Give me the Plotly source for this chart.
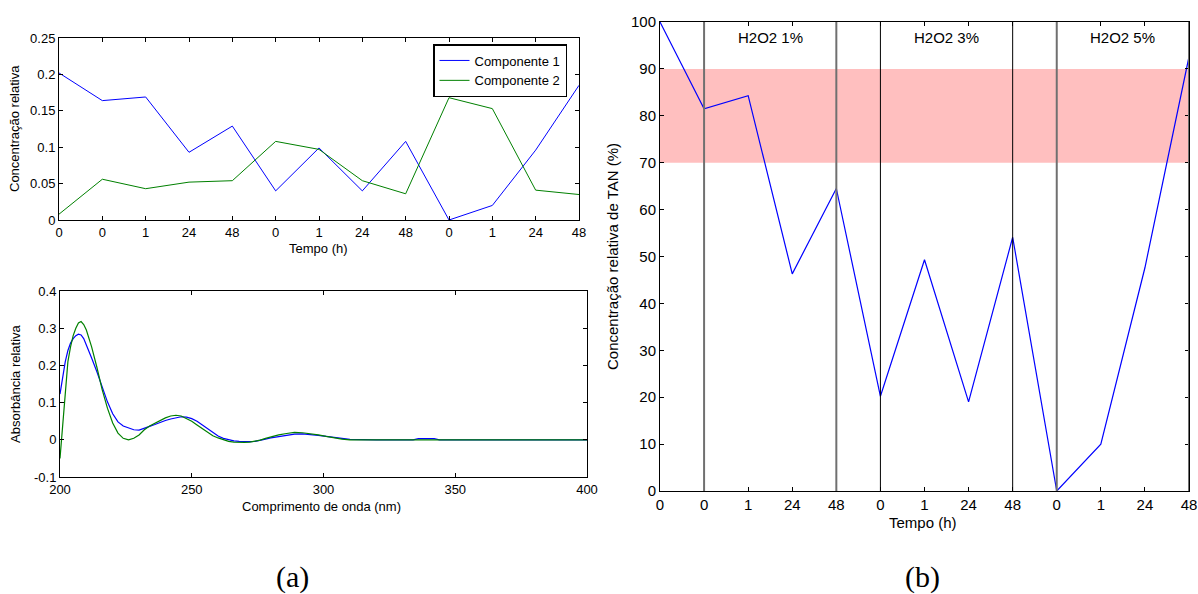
import plotly.graph_objects as go

W, H = 1198, 594

# ---------------- data ----------------
tempo_labels = ["0", "0", "1", "24", "48", "0", "1", "24", "48", "0", "1", "24", "48"]
tempo_idx = list(range(len(tempo_labels)))

componente1 = [0.202, 0.164, 0.169, 0.093, 0.129, 0.040, 0.099, 0.040, 0.108, 0.000, 0.020, 0.096, 0.185]
componente2 = [0.008, 0.056, 0.043, 0.052, 0.054, 0.108, 0.097, 0.054, 0.036, 0.168, 0.153, 0.041, 0.035]

wavelength = [200, 201, 202, 203, 204, 205, 206, 207, 208, 209, 210, 212, 214, 216, 218,
              220, 222, 224, 226, 228, 230, 232, 234, 236, 238, 240, 242, 244, 246, 248,
              250, 252, 254, 256, 258, 260, 262, 264, 266, 268, 270, 272, 274, 276, 278,
              280, 283, 286, 289, 292, 295, 298, 301, 304, 307, 310, 320, 330, 334, 336,
              340, 342, 344, 350, 360, 380, 400]
absorb1 = [0.123, 0.170, 0.210, 0.240, 0.260, 0.272, 0.280, 0.284, 0.282, 0.272, 0.256, 0.220,
           0.183, 0.140, 0.102, 0.070, 0.048, 0.037, 0.031, 0.027, 0.026, 0.030, 0.036, 0.041,
           0.047, 0.052, 0.056, 0.060, 0.062, 0.061, 0.057, 0.050, 0.040, 0.029, 0.019, 0.010,
           0.004, 0.000, -0.003, -0.004, -0.005, -0.005, -0.004, -0.002, 0.002, 0.005, 0.009,
           0.013, 0.015, 0.016, 0.015, 0.012, 0.009, 0.006, 0.003, 0.001, 0.000, 0.000, 0.000,
           0.003, 0.003, 0.003, 0.000, 0.000, 0.000, 0.000, 0.000]
absorb2 = [-0.050, 0.040, 0.140, 0.210, 0.250, 0.280, 0.300, 0.314, 0.318, 0.310, 0.295, 0.250,
           0.195, 0.135, 0.085, 0.045, 0.018, 0.004, 0.000, 0.004, 0.013, 0.027, 0.037, 0.045,
           0.052, 0.059, 0.064, 0.066, 0.064, 0.058, 0.050, 0.040, 0.030, 0.020, 0.011, 0.005,
           0.000, -0.004, -0.006, -0.007, -0.007, -0.006, -0.004, -0.001, 0.004, 0.008, 0.013,
           0.017, 0.020, 0.019, 0.017, 0.013, 0.009, 0.005, 0.002, 0.000, 0.000, 0.000, 0.000,
           0.001, 0.001, 0.001, 0.000, 0.000, 0.000, 0.000, 0.000]

tan_rel = [100, 81.5, 84.3, 46.3, 64.5, 20.2, 49.3, 19.0, 54.1, 0.0, 10.0, 47.6, 92.6]

band_low, band_high = 70, 90
boundaries_grey = [1, 4, 9, 12]
boundaries_black = [5, 8]
group_labels = ["H2O2 1%", "H2O2 3%", "H2O2 5%"]
group_centers = [2.5, 6.5, 10.5]

ytick_a = [0, 0.05, 0.1, 0.15, 0.2, 0.25]
ytick_a_txt = ["0", "0.05", "0.1", "0.15", "0.2", "0.25"]
ytick_b = [-0.1, 0, 0.1, 0.2, 0.3, 0.4]
ytick_b_txt = ["-0.1", "0", "0.1", "0.2", "0.3", "0.4"]
xtick_b = [200, 250, 300, 350, 400]
ytick_c = list(range(0, 101, 10))

# ---------------- figure ----------------
FONT = "Liberation Sans, Arial, sans-serif"
BLUE = "#0000ff"
GREEN = "#008000"

def px_x(a, b):
    return [a / W, b / W]

def px_y(top, bottom):
    return [1 - bottom / H, 1 - top / H]

fig = go.Figure()

fig.add_trace(go.Scatter(x=tempo_idx, y=componente1, mode="lines", name="Componente 1",
                         line=dict(color=BLUE, width=1), xaxis="x", yaxis="y"))
fig.add_trace(go.Scatter(x=tempo_idx, y=componente2, mode="lines", name="Componente 2",
                         line=dict(color=GREEN, width=1), xaxis="x", yaxis="y"))
fig.add_trace(go.Scatter(x=wavelength, y=absorb1, mode="lines", showlegend=False,
                         line=dict(color=BLUE, width=1.2), xaxis="x2", yaxis="y2"))
fig.add_trace(go.Scatter(x=wavelength, y=absorb2, mode="lines", showlegend=False,
                         line=dict(color=GREEN, width=1.2), xaxis="x2", yaxis="y2"))
fig.add_trace(go.Scatter(x=tempo_idx, y=tan_rel, mode="lines", showlegend=False,
                         line=dict(color=BLUE, width=1.2), xaxis="x3", yaxis="y3"))

common = dict(showline=True, linecolor="black", linewidth=1, mirror="ticks",
              ticks="inside", ticklen=4, tickcolor="black", showgrid=False,
              zeroline=False, automargin=False,
              tickfont=dict(family=FONT, size=13, color="black"))
common_c = dict(common)
common_c["tickfont"] = dict(family=FONT, size=15, color="black")

shapes = [dict(type="rect", xref="x3", yref="y3", x0=0, x1=12, y0=band_low, y1=band_high,
               fillcolor="#ffbfbf", line=dict(width=0), layer="below")]
for b in boundaries_grey:
    shapes.append(dict(type="line", xref="x3", yref="y3", x0=b, x1=b, y0=0, y1=100,
                       line=dict(color="#707070", width=2), layer="above"))
for b in boundaries_black:
    shapes.append(dict(type="line", xref="x3", yref="y3", x0=b, x1=b, y0=0, y1=100,
                       line=dict(color="black", width=1), layer="above"))

annotations = []
for lbl, c in zip(group_labels, group_centers):
    annotations.append(dict(x=c, y=96.7, xref="x3", yref="y3", text=lbl, showarrow=False,
                            font=dict(family=FONT, size=15, color="black")))

def pa(text, x, y, size, rot=0, family=FONT):
    return dict(x=x / W, y=1 - y / H, xref="paper", yref="paper", text=text, showarrow=False,
                textangle=rot, xanchor="center", yanchor="middle",
                font=dict(family=family, size=size, color="black"))

annotations += [
    pa("Concentração relativa", 15, 129, 13, -90),
    pa("Tempo (h)", 318, 249, 13),
    pa("Absorbância relativa", 15, 384, 13, -90),
    pa("Comprimento de onda (nm)", 321, 507, 13),
    pa("Concentração relativa de TAN (%)", 612, 257, 15, -90),
    pa("Tempo (h)", 923, 522, 15),
    pa("(a)", 292, 577, 30, 0, "Liberation Serif, Times New Roman, serif"),
    pa("(b)", 922, 577, 30, 0, "Liberation Serif, Times New Roman, serif"),
]

fig.update_layout(
    width=W, height=H,
    margin=dict(l=0, r=0, t=0, b=0, pad=0, autoexpand=False),
    paper_bgcolor="white", plot_bgcolor="white",
    font=dict(family=FONT, color="black"),
    xaxis=dict(domain=px_x(59, 579), range=[0, 12], tickvals=tempo_idx, ticktext=tempo_labels,
               anchor="y", **common),
    yaxis=dict(domain=px_y(38, 220), range=[0, 0.25], tickvals=ytick_a, ticktext=ytick_a_txt,
               anchor="x", **common),
    xaxis2=dict(domain=px_x(60, 587), range=[200, 400], tickvals=xtick_b,
                ticktext=[str(v) for v in xtick_b], anchor="y2", **common),
    yaxis2=dict(domain=px_y(291, 477), range=[-0.1, 0.4], tickvals=ytick_b, ticktext=ytick_b_txt,
                anchor="x2", **common),
    xaxis3=dict(domain=px_x(660, 1189), range=[0, 12], tickvals=tempo_idx, ticktext=tempo_labels,
                anchor="y3", **common_c),
    yaxis3=dict(domain=px_y(22, 491), range=[0, 100], tickvals=ytick_c,
                ticktext=[str(v) for v in ytick_c], anchor="x3", **common_c),
    legend=dict(x=433 / W, y=1 - 44 / H, xanchor="left", yanchor="top",
                bgcolor="white", bordercolor="black", borderwidth=1.5,
                font=dict(family=FONT, size=13, color="black"),
                tracegroupgap=0),
    shapes=shapes,
    annotations=annotations,
    showlegend=True,
)

fig.write_html(
    "out.html",
    config={"displayModeBar": False},
    post_script="document.body.style.margin='0';document.body.style.overflow='hidden';",
)
